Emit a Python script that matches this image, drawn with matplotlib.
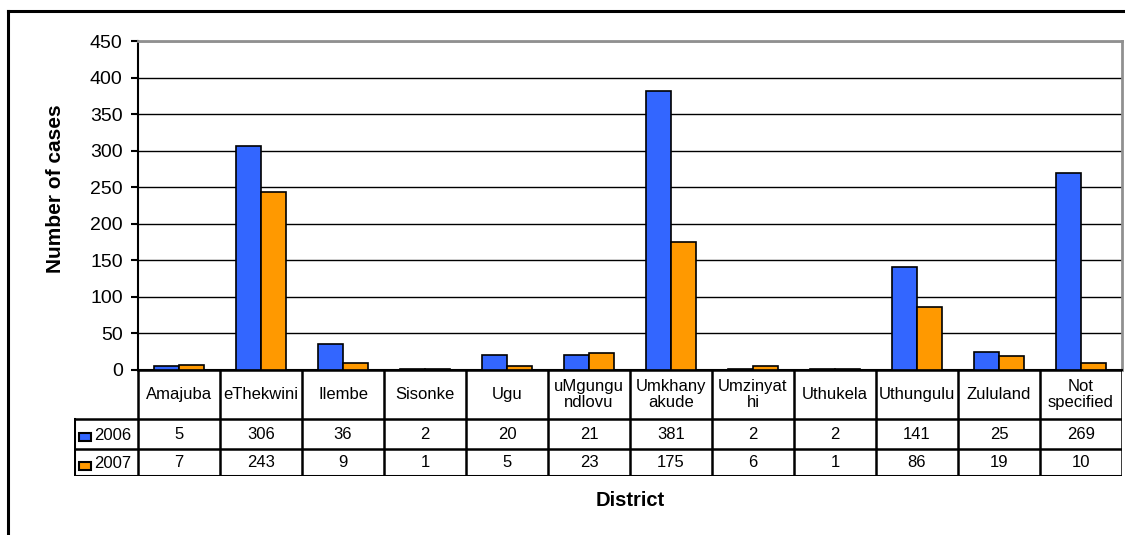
import matplotlib.pyplot as plt
from matplotlib.lines import Line2D
from matplotlib.patches import Rectangle
import numpy as np

plt.rcParams['font.family'] = ['Liberation Sans', 'DejaVu Sans']

# Data
districts = ['Amajuba', 'eThekwini', 'Ilembe', 'Sisonke', 'Ugu', 'uMgungu\nndlovu',
             'Umkhany\nakude', 'Umzinyat\nhi', 'Uthukela', 'Uthungulu', 'Zululand', 'Not\nspecified']
cases2006 = [5, 306, 36, 2, 20, 21, 381, 2, 2, 141, 25, 269]
cases2007 = [7, 243, 9, 1, 5, 23, 175, 6, 1, 86, 19, 10]
series_names = ['2006', '2007']
colors = ['#3366FF', '#FF9900']

W, H = 1125, 535
fig = plt.figure(figsize=(W / 100, H / 100), dpi=100)

# pixel layout
px_left, px_right, px_top, px_zero = 138, 1122, 41, 370
row_bottoms = [419, 449, 476]
leg_left = 74

ax = fig.add_axes([px_left / W, 1 - px_zero / H, (px_right - px_left) / W, (px_zero - px_top) / H])
x = np.arange(len(districts))
bw = 0.3
ax.bar(x - bw / 2, cases2006, bw, color=colors[0], edgecolor='black', linewidth=1.2, zorder=3)
ax.bar(x + bw / 2, cases2007, bw, color=colors[1], edgecolor='black', linewidth=1.2, zorder=3)
ax.set_xlim(-0.5, len(districts) - 0.5)
ax.set_ylim(0, 450)
ax.set_yticks(range(0, 451, 50))
ax.yaxis.grid(True, color='black', linewidth=1.0, zorder=0)
ax.set_axisbelow(True)
ax.set_xticks([])
for s in ['top', 'right']:
    ax.spines[s].set_color('#909090')
    ax.spines[s].set_linewidth(2)
ax.spines['left'].set_linewidth(1.5)
ax.spines['bottom'].set_linewidth(1.5)
ax.tick_params(axis='y', length=5, width=1.5, pad=6, labelsize=14)
ax.set_ylabel('Number of cases', fontsize=15, fontweight='bold')
ax.yaxis.set_label_coords(-73 / (px_right - px_left), 0.55)

# data table below the axis
tab = fig.add_axes([leg_left / W, 1 - row_bottoms[-1] / H, (px_right - leg_left) / W,
                    (row_bottoms[-1] - px_zero) / H])
x0 = -0.5 - (px_left - leg_left) / 82.0
tab.set_xlim(x0, len(districts) - 0.5)
tab.set_ylim(row_bottoms[-1], px_zero)
tab.axis('off')
lw = 1.8
n = len(districts)
# horizontal lines
tab.plot([-0.5, n - 0.5], [px_zero, px_zero], color='black', lw=lw)
tab.plot([x0, n - 0.5], [row_bottoms[0], row_bottoms[0]], color='black', lw=lw)
tab.plot([x0, n - 0.5], [row_bottoms[1], row_bottoms[1]], color='black', lw=lw)
tab.plot([x0, n - 0.5], [row_bottoms[2], row_bottoms[2]], color='black', lw=2.2)
# vertical lines
for i in range(n + 1):
    tab.plot([i - 0.5, i - 0.5], [px_zero, row_bottoms[-1]], color='black', lw=lw)
tab.plot([x0, x0], [row_bottoms[0], row_bottoms[-1]], color='black', lw=2.2)

for i, name in enumerate(districts):
    tab.text(i, (px_zero + row_bottoms[0]) / 2, name, ha='center', va='center',
             fontsize=12, linespacing=1.15)
    tab.text(i, (row_bottoms[0] + row_bottoms[1]) / 2, str(cases2006[i]), ha='center',
             va='center', fontsize=12)
    tab.text(i, (row_bottoms[1] + row_bottoms[2]) / 2, str(cases2007[i]), ha='center',
             va='center', fontsize=12)

for k, name in enumerate(series_names):
    yc = (row_bottoms[k] + row_bottoms[k + 1]) / 2 + 2
    tab.add_patch(Rectangle((x0 + 0.06, yc - 3), 0.15, 8, facecolor=colors[k],
                            edgecolor='black', lw=1.5, clip_on=False))
    tab.text(x0 + 0.25, yc - 1, name, ha='left', va='center', fontsize=12)

fig.text(((px_left + px_right) / 2) / W, 1 - 501 / H, 'District', ha='center', va='center',
         fontsize=14.5, fontweight='bold')

# outer chart frame
fig.add_artist(Line2D([8 / W, 8 / W], [0, 1 - 11 / H], color='black', lw=2.2))
fig.add_artist(Line2D([8 / W, 1], [1 - 11 / H, 1 - 11 / H], color='black', lw=2.2))

fig.savefig('out.png', dpi=100)
